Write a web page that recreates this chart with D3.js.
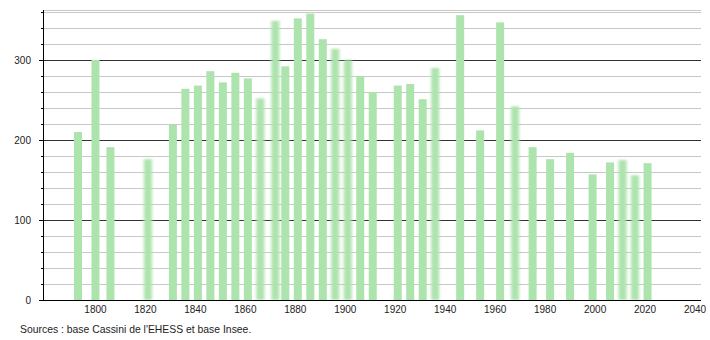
<!DOCTYPE html>
<html><head><meta charset="utf-8">
<script src="https://cdn.jsdelivr.net/npm/d3@7"></script>
<style>body{margin:0;background:#fff}svg{display:block;font-family:"Liberation Sans",Arial,sans-serif}</style>
</head><body><svg id="c" width="710" height="340"></svg>
<script>
const years = [1793,1800,1806,1821,1831,1836,1841,1846,1851,1856,1861,1866,1872,1876,1881,1886,1891,1896,1901,1906,1911,1921,1926,1931,1936,1946,1954,1962,1968,1975,1982,1990,1999,2006,2011,2016,2021];
const population = [210,300,191,176,219,264,268,286,272,284,277,252,349,292,352,358,326,314,300,280,260,268,270,251,290,356,212,347,242,191,176,184,157,172,175,156,171];
const blurredYears = [1821,1866,1872,1896,1901,1936,1968,2011,2016];
const xTicks = [1800,1820,1840,1860,1880,1900,1920,1940,1960,1980,2000,2020,2040];
const yMajor = [0,100,200,300];
const sourceText = "Sources : base Cassini de l'EHESS et base Insee.";

const svg = d3.select("#c");
const x = d3.scaleLinear().domain([1779, 2042]).range([43, 700]);
const y = d3.scaleLinear().domain([0, 362.5]).range([300, 10]);

const defs = svg.append("defs");
defs.append("filter").attr("id","blur").attr("x","-100%").attr("width","300%").attr("y","-5%").attr("height","110%")
  .append("feGaussianBlur").attr("stdDeviation","1.6 1.2");

const minor = d3.range(20, 362, 20).filter(v => v % 100 !== 0);
svg.append("g").selectAll("line").data(minor.concat([362.5])).join("line")
  .attr("x1", 44).attr("x2", 701).attr("y1", d => Math.round(y(d))+0.5).attr("y2", d => Math.round(y(d))+0.5)
  .attr("stroke", "#c8c8c8").attr("stroke-width", 1);
svg.append("g").selectAll("line").data(yMajor.slice(1)).join("line")
  .attr("x1", 44).attr("x2", 701).attr("y1", d => Math.round(y(d))+0.5).attr("y2", d => Math.round(y(d))+0.5)
  .attr("stroke", "#333", ).attr("stroke-width", 1);

const data = years.map((yr, i) => ({yr, v: population[i], blur: blurredYears.includes(yr)}));
svg.append("g").selectAll("rect").data(data).join("rect")
  .attr("x", d => x(d.yr) - 4).attr("width", 8)
  .attr("y", d => y(d.v)).attr("height", d => y(0) - y(d.v))
  .attr("fill", "#ade3ad")
  .attr("filter", d => d.blur ? "url(#blur)" : null);

// y axis
const ya = svg.append("g");
ya.append("line").attr("x1", 43.5).attr("x2", 43.5).attr("y1", 10).attr("y2", 300).attr("stroke", "#000");
ya.selectAll(".mt").data(minor).join("line")
  .attr("x1", 41).attr("x2", 44).attr("y1", d => Math.round(y(d))+0.5).attr("y2", d => Math.round(y(d))+0.5).attr("stroke", "#000");
ya.selectAll(".Mt").data(yMajor).join("line")
  .attr("x1", 39).attr("x2", 44).attr("y1", d => Math.round(y(d))+0.5).attr("y2", d => Math.round(y(d))+0.5).attr("stroke", "#000");
ya.selectAll("text").data(yMajor).join("text")
  .attr("x", 31).attr("y", d => y(d) + 4).attr("text-anchor", "end")
  .attr("font-size", 10).attr("fill", "#222").text(d => d);

// x axis
svg.append("line").attr("x1", 39).attr("x2", 701).attr("y1", 300.5).attr("y2", 300.5).attr("stroke", "#000");
svg.append("g").selectAll("text").data(xTicks).join("text")
  .attr("x", d => x(d)).attr("y", 313).attr("text-anchor", "middle")
  .attr("font-size", 10).attr("fill", "#222").text(d => d);

svg.append("text").attr("x", 20).attr("y", 333).attr("font-size", 10.4).attr("fill", "#222").text(sourceText);
</script></body></html>
